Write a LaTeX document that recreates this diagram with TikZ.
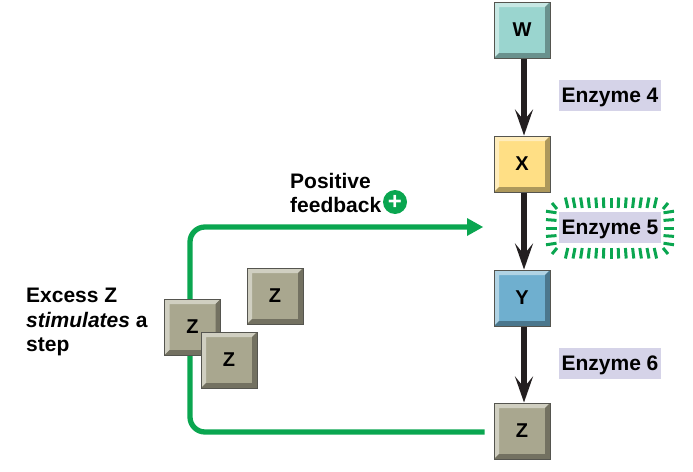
\documentclass[tikz,border=0pt]{standalone}
\usepackage{fontspec}
\setmainfont{Liberation Sans}
\usetikzlibrary{arrows.meta}

\definecolor{boxedge}{HTML}{55554F}
\definecolor{wface}{HTML}{9AD5CF}
\definecolor{xface}{HTML}{FFDF85}
\definecolor{yface}{HTML}{6FAFCF}
\definecolor{zface}{HTML}{A9A78F}
\definecolor{enzface}{HTML}{D5D3E8}
\definecolor{fbgreen}{HTML}{0AA650}
\definecolor{flowblack}{HTML}{231F20}

\begin{document}
\begin{tikzpicture}[x=1pt,y=-1pt]
        \tikzset{>=Stealth}
        \tikzstyle{bevelbox}=[draw=boxedge,line width=1pt,fill=#1,minimum size=56pt,inner sep=0pt,font=\fontsize{20}{24}\selectfont\bfseries,
            path picture={
                \fill[#1!55!white] (path picture bounding box.north west) -- (path picture bounding box.north east)
                    -- ([shift={(-5pt,-5pt)}]path picture bounding box.north east) -- ([shift={(5pt,-5pt)}]path picture bounding box.north west)
                    -- ([shift={(5pt,5pt)}]path picture bounding box.south west) -- (path picture bounding box.south west) -- cycle;
                \fill[#1!68!black] (path picture bounding box.south east) -- (path picture bounding box.north east)
                    -- ([shift={(-5pt,-5pt)}]path picture bounding box.north east) -- ([shift={(-5pt,5pt)}]path picture bounding box.south east)
                    -- ([shift={(5pt,5pt)}]path picture bounding box.south west) -- (path picture bounding box.south west) -- cycle;
            }]
        \tikzstyle{enzyme}=[fill=enzface,minimum width=102pt,minimum height=31pt,inner sep=0pt,text height=14.5pt,text depth=0.5pt,font=\fontsize{21}{24}\selectfont\bfseries]
        \tikzstyle{caption}=[align=left,inner sep=0pt,font=\fontsize{21}{24.5}\selectfont\bfseries]
        \tikzstyle{flow}=[->,draw=flowblack,line width=5.3pt]
        \tikzstyle{feedback}=[draw=fbgreen,line width=5.3pt,rounded corners=15pt]
        \tikzstyle{glow}=[draw=fbgreen,line width=3pt]

        \useasboundingbox (0,0) rectangle (693,471);

        \node[bevelbox=wface] (W) at (522,30) {W};
        \node[bevelbox=xface] (X) at (522,164) {X};
        \node[bevelbox=yface] (Y) at (522,298) {Y};
        \node[bevelbox=zface] (Zend) at (522,431) {Z};

        \node[enzyme] (enz4) at (610,95) {Enzyme 4};
        \node[enzyme] (enz5) at (610,227.5) {Enzyme 5};
        \node[enzyme] (enz6) at (610,363) {Enzyme 6};

        \foreach \i in {-6,...,6} {
            \draw[glow] (611+\i*7.2,208) -- (611+\i*7.6,197.5);
            \draw[glow] (611+\i*7.2,248) -- (611+\i*7.6,258.5);
        }
        \foreach \j in {-2,...,2} {
            \draw[glow] (556.5,228+\j*7.6) -- (546,228+\j*8.4);
            \draw[glow] (663.5,228+\j*7.6) -- (674,228+\j*8.4);
        }
        \draw[glow] (557,209) -- (552,203);
        \draw[glow] (663,209) -- (668,203);
        \draw[glow] (557,248) -- (552,254);
        \draw[glow] (663,248) -- (668,254);

        \coordinate (fbhead) at (483,227);
        \coordinate (fbcorner) at (190,227);
        \draw[feedback] ([shift={(-9pt,-1pt)}]Zend.west) -- (190,432) -- (fbcorner) -- ([xshift=-14pt]fbhead);
        \fill[fbgreen] (fbhead) -- (467,218) -- (467,236) -- cycle;

        \node[bevelbox=zface] (Zfree) at (275,296) {Z};
        \node[bevelbox=zface] (Zleft) at (192.5,327) {Z};
        \node[bevelbox=zface] (Zfront) at (229,360) {Z};

        \draw[flow,-{Stealth[length=26pt,width=18pt,inset=11pt]}] ([xshift=2pt]W.south) -- ([xshift=2pt]X.north);
        \draw[flow,-{Stealth[length=26pt,width=18pt,inset=11pt]}] ([xshift=2pt]X.south) -- ([xshift=2pt]Y.north);
        \draw[flow,-{Stealth[length=26pt,width=18pt,inset=11pt]}] ([xshift=2pt]Y.south) -- ([xshift=2pt]Zend.north);

        \node[caption,anchor=north west] (fbtext) at (290,173) {Positive\\feedback};
        \node[circle,fill=fbgreen,text=white,minimum size=24pt,inner sep=0pt,font=\fontsize{24}{24}\selectfont\bfseries] (plus) at (395,202) {+};
        \node[caption,anchor=north west] (excess) at (26,288) {Excess Z\\\textit{stimulates} a\\step};
    \end{tikzpicture}
\end{document}
